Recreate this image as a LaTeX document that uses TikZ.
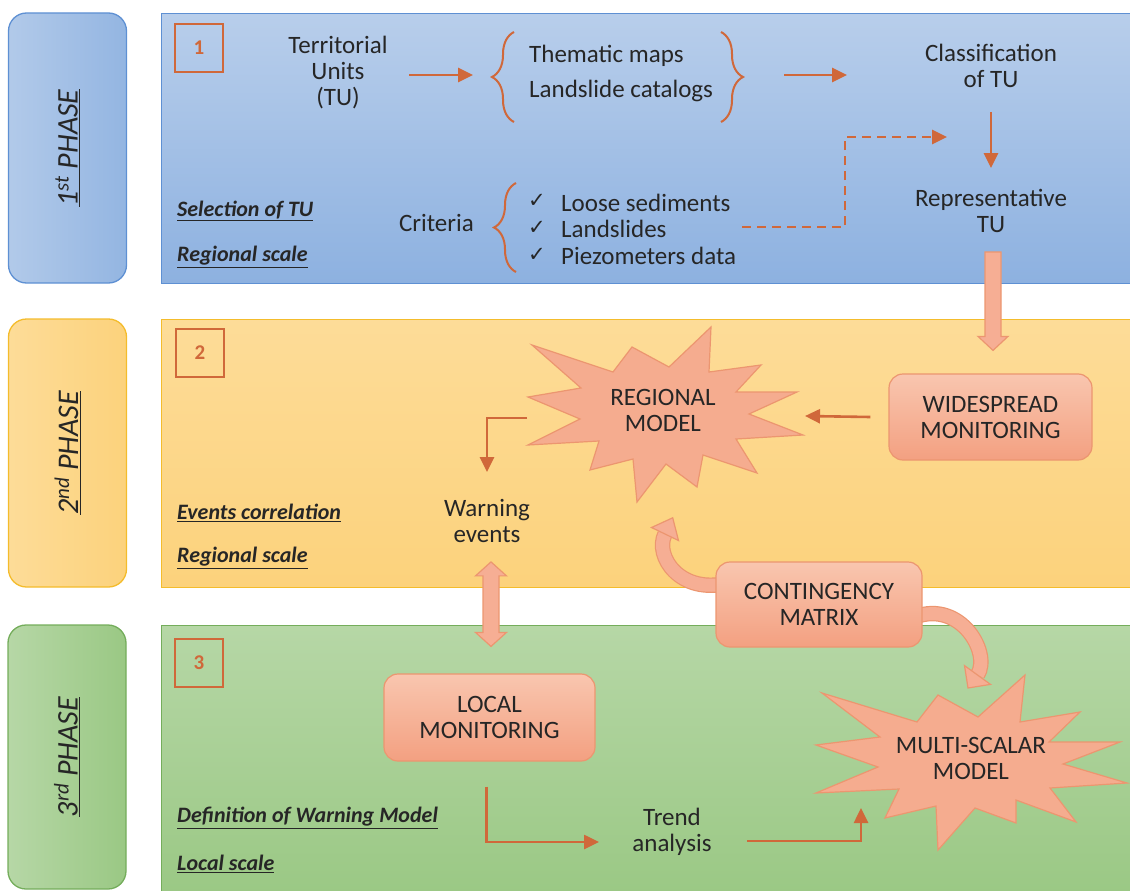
\documentclass[tikz,border=0pt]{standalone}
\usepackage{fontspec}
\setmainfont{Carlito}
\newfontfamily\checkfont{DejaVu Sans}
\usetikzlibrary{arrows.meta,calc,decorations.pathreplacing,positioning}

\definecolor{arrowc}{HTML}{D0683A}
\definecolor{blueT}{HTML}{B8CEEB}
\definecolor{blueB}{HTML}{8DB1E0}
\definecolor{blueL}{HTML}{5E90D3}
\definecolor{yelT}{HTML}{FDDC98}
\definecolor{yelB}{HTML}{FCD27C}
\definecolor{yelL}{HTML}{F4BC2C}
\definecolor{grnT}{HTML}{B6D7A6}
\definecolor{grnB}{HTML}{9AC884}
\definecolor{grnL}{HTML}{74AD5B}
\definecolor{pinkT}{HTML}{F9C6AF}
\definecolor{pinkB}{HTML}{F3A081}
\definecolor{pinkL}{HTML}{EC9670}
\definecolor{starc}{HTML}{F5AC8F}
\definecolor{fatc}{HTML}{F6AE94}
\definecolor{txt}{HTML}{262626}

\tikzset{
  panel/.style={rectangle, line width=1.3pt, anchor=north west, minimum width=985pt, minimum height=#1, inner sep=0pt},
  phasebox/.style={rectangle, rounded corners=18pt, line width=1.3pt, minimum width=118pt, minimum height=#1, inner sep=0pt},
  phasetext/.style={rotate=90, text=txt, font=\fontsize{30}{30}\selectfont\itshape},
  numbox/.style={rectangle, draw=arrowc, line width=1.5pt, minimum size=48pt, inner sep=0pt, text=arrowc, font=\fontsize{21}{21}\selectfont\bfseries},
  txtnode/.style={align=center, text=txt, font=\fontsize{25}{26}\selectfont, inner sep=1pt},
  tag/.style={anchor=west, inner sep=0pt, text=txt, font=\fontsize{22}{22}\selectfont\bfseries\itshape},
  pinkbox/.style={rectangle, rounded corners=14pt, draw=pinkL, line width=1.2pt, top color=pinkT, bottom color=pinkB, align=center, text=txt, font=\fontsize{25}{26}\selectfont},
  starshape/.style={draw=pinkL, line width=1.2pt, fill=starc, line join=miter},
  arr/.style={draw=arrowc, line width=2.6pt, -{Triangle[length=15pt,width=14pt]}},
  dasharr/.style={arr, dash pattern=on 9pt off 6pt},
  brc/.style={draw=arrowc, line width=2pt, decorate, decoration={brace, amplitude=22pt}},
  fat/.style={draw=pinkL, line width=1.2pt, fill=fatc, line join=miter},
  band/.style={draw=pinkL, line width=1.2pt, double=fatc, double distance=13pt},
}

% block arrow pointing down: #1 top, #2 tip
\newcommand{\fatdown}[2]{%
  \filldraw[fat] ($(#1)+(-8,0)$) -- ($(#2)+(-8,-14)$) -- ($(#2)+(-15,-14)$) -- (#2)
    -- ($(#2)+(15,-14)$) -- ($(#2)+(8,-14)$) -- ($(#1)+(8,0)$) -- cycle;}
% block arrow with two heads: #1 top tip, #2 bottom tip
\newcommand{\fatboth}[2]{%
  \filldraw[fat] (#1) -- ($(#1)+(15.5,14)$) -- ($(#1)+(8,14)$) -- ($(#2)+(8,-14)$)
    -- ($(#2)+(15.5,-14)$) -- (#2) -- ($(#2)+(-15.5,-14)$) -- ($(#2)+(-8,-14)$)
    -- ($(#1)+(-8,14)$) -- ($(#1)+(-15.5,14)$) -- cycle;}

\begin{document}
\begin{tikzpicture}[x=1pt,y=-1pt]
\useasboundingbox (0,0) rectangle (1130,891);

% phase column
\node[phasebox=270pt, draw=blueL, left color=blueT!85!blueB, right color=blueB!85!blueT] (ph1) at (67.5,148) {};
\node[phasebox=268pt, draw=yelL, left color=yelT, right color=yelB] (ph2) at (67.5,453) {};
\node[phasebox=264pt, draw=grnL, left color=grnT, right color=grnB] (ph3) at (67,757) {};
\node[phasetext] (ph1t) at (ph1) {\underline{1\textsuperscript{st} PHASE}};
\node[phasetext] (ph2t) at (ph2) {\underline{2\textsuperscript{nd} PHASE}};
\node[phasetext] (ph3t) at (ph3) {\underline{3\textsuperscript{rd} PHASE}};

% panels
\node[panel=270pt, draw=blueL, top color=blueT, bottom color=blueB] (p1) at (161,13) {};
\node[panel=268pt, draw=yelL, top color=yelT, bottom color=yelB] (p2) at (161,319) {};
\node[panel=272pt, draw=grnL, top color=grnT, bottom color=grnB] (p3) at (161,625) {};

% 1st phase
\node[numbox] (n1) at (199,48) {1};
\node[txtnode] (terr) at (338,73) {Territorial\\Units\\(TU)};
\node[txtnode, anchor=west] (them) at (528,56) {Thematic maps};
\node[txtnode, anchor=west] (cat) at (528,91) {Landslide catalogs};
\node[txtnode] (class) at (991,66) {Classification\\of TU};
\node[txtnode] (rep) at (991,211) {Representative\\TU};
\node[txtnode, anchor=east] (crit) at (475,223) {Criteria};
\node[txtnode, anchor=west, font=\checkfont\fontsize{21}{21}\selectfont] (ck1) at (527,201) {✓};
\node[txtnode, anchor=west, font=\checkfont\fontsize{21}{21}\selectfont] (ck2) at (527,228) {✓};
\node[txtnode, anchor=west, font=\checkfont\fontsize{21}{21}\selectfont] (ck3) at (527,255) {✓};
\node[txtnode, anchor=west] (loose) at (560,203) {Loose sediments};
\node[txtnode, anchor=west] (lsl) at (560,229) {Landslides};
\node[txtnode, anchor=west] (piez) at (560,256) {Piezometers data};
\node[tag] (sel) at (177,211) {\underline{Selection of TU}};
\node[tag] (rs1) at (177,257) {\underline{Regional scale}};

\draw[brc] (514,122) -- (514,32);
\draw[brc] (721,32) -- (721,122);
\draw[brc] (516,272) -- (516,183);

\coordinate (terrout) at (409,75);
\coordinate (braceL) at (473,75);
\coordinate (braceR) at (784,75);
\coordinate (classin) at (847,75);
\draw[arr] (terrout) -- (braceL);
\draw[arr] (braceR) -- (classin);
\draw[arr] ($(class.south)+(0,23)$) -- ($(rep.north)+(0,-20)$);
\coordinate (critout) at (742,227);
\coordinate (classdash) at (947,137);
\draw[dasharr] (critout) -- (845,227) |- (classdash);

% 2nd phase
\node[numbox] (n2) at (200,353) {2};
\filldraw[starshape] (532,345) -- (613,372) -- (632,347) -- (669,367) -- (711,327) -- (709,372)
  -- (761,365) -- (736,392) -- (797,392) -- (749,414) -- (803,435) -- (736,439)
  -- (757,473) -- (703,455) -- (697,487) -- (666,464) -- (637,502) -- (633,459)
  -- (590,470) -- (599,441) -- (528,445) -- (580,419) -- (528,397) -- (581,388) -- cycle;
\node[txtnode] (regmodel) at (663,410) {REGIONAL\\MODEL};
\node[pinkbox, minimum width=203pt, minimum height=86pt] (wide) at (990.5,417) {WIDESPREAD\\MONITORING};
\node[txtnode] (warn) at (487,521) {Warning\\events};
\node[tag] (evc) at (177,513) {\underline{Events correlation}};
\node[tag] (rs2) at (177,558) {\underline{Regional scale}};

\coordinate (regE) at (805,416);
\coordinate (regW) at (527,418);
\draw[arr] ([xshift=-18pt]wide.west) -- (regE);
\draw[arr] (regW) -| ($(warn.north)+(0,-26)$);

% 3rd phase
\node[numbox] (n3) at (199,663) {3};
\node[pinkbox, minimum width=211pt, minimum height=87pt] (local) at (489.5,717.5) {LOCAL\\MONITORING};
\node[txtnode] (trend) at (672,832) {Trend\\analysis};
\filldraw[starshape] (822,693) -- (917,722) -- (938,695) -- (978,717) -- (1025,675) -- (1020,722)
  -- (1080,712) -- (1049,742) -- (1120,742) -- (1063,764) -- (1127,783) -- (1050,788)
  -- (1076,822) -- (1016,800) -- (1016,823) -- (975,808) -- (938,850) -- (936,806)
  -- (885,818) -- (899,789) -- (816,793) -- (878,767) -- (816,745) -- (880,737) -- cycle;
\node[txtnode] (multi) at (971,758) {MULTI-SCALAR\\MODEL};
\node[tag] (defw) at (177,818) {\underline{Definition of Warning Model}};
\node[tag] (lsc) at (177,864) {\underline{Local scale}};

\coordinate (trendin) at (599,842);
\coordinate (trendout) at (747,841);
\coordinate (multiin) at (861,808);
\draw[arr] ($(local.south)+(-3,25)$) |- (trendin);
\draw[arr] (trendout) -| (multiin);

% block arrows between phases
\coordinate (repout) at ($(rep.south)+(2,18)$);
\coordinate (widein) at ($(wide.north)+(2.5,-23)$);
\fatdown{repout}{widein}
\coordinate (warnout) at ($(warn.south)+(4,18)$);
\coordinate (localin) at ($(local.north)+(1.5,-27)$);
\fatboth{warnout}{localin}

% contingency matrix and its curved arrows
\coordinate (cmatL) at (728,583);
\coordinate (cmatR) at (910,619);
\draw[band] (cmatL) .. controls (680,595) and (654,556) .. (665,534);
\filldraw[fat] (651.5,527.5) -- (672.7,517.8) -- (678.5,540.5) -- cycle;
\draw[band] (cmatR) .. controls (958,596) and (992,652) .. (977.5,675);
\filldraw[fat] (964.5,665.6) -- (990.5,684.4) -- (968,688) -- cycle;
\node[pinkbox, minimum width=206pt, minimum height=85pt] (cmat) at (819,604.5) {CONTINGENCY\\MATRIX};
\end{tikzpicture}
\end{document}
